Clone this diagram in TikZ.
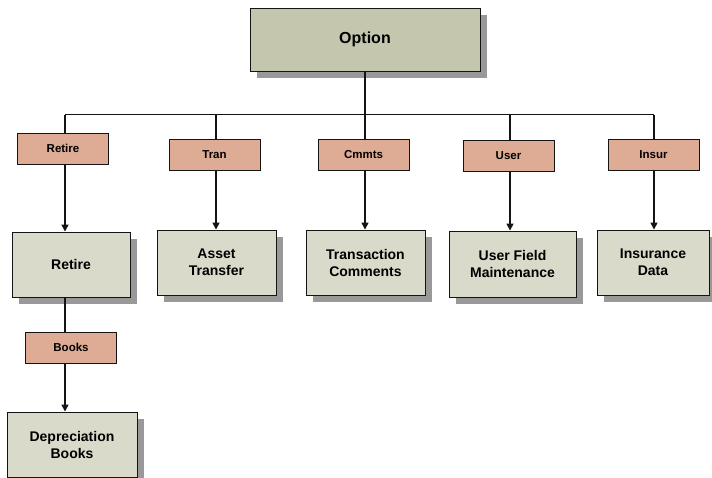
\documentclass[tikz,border=0pt]{standalone}
\usepackage{fontspec}
\setmainfont{Liberation Sans}
\usepackage{xcolor}
\usetikzlibrary{arrows.meta, shadows, calc}
\definecolor{topFill}{RGB}{196, 199, 174}
\definecolor{boxFill}{RGB}{218, 218, 203}
\definecolor{tagFill}{RGB}{222, 172, 148}
\definecolor{lineColor}{RGB}{20, 20, 20}
\definecolor{shadowGray}{RGB}{153, 153, 153}

\begin{document}
\begin{tikzpicture}[x=1pt, y=-1pt]

% Style definitions
\tikzset{
    base/.style={
        rectangle, draw=lineColor, line width=0.9pt, align=center, text=black
    },
    module/.style={
        base, fill=boxFill, minimum width=119pt, minimum height=65pt,
        font=\fontsize{14}{17}\selectfont\bfseries,
        drop shadow={shadow xshift=7pt, shadow yshift=-7pt, fill=shadowGray, opacity=1}
    },
    topbox/.style={
        module, fill=topFill, minimum width=230pt, minimum height=63pt,
        font=\fontsize{16}{19}\selectfont\bfseries
    },
    tag/.style={
        base, fill=tagFill, minimum width=91pt, minimum height=31pt,
        font=\fontsize{11.5}{13}\selectfont\bfseries
    },
    wire/.style={draw=lineColor, line width=1.5pt},
    bus/.style={draw=lineColor, line width=1pt},
    feed/.style={wire, -{Triangle[length=7pt, width=7pt]}}
}

\useasboundingbox (0,0) rectangle (712,478);

% Root
\node (option) [topbox] at (365,39.5) {Option};

% Menu tags
\node (tag_retire) [tag] at (63,148.5) {Retire};
\node (tag_tran)   [tag] at (214.5,155) {Tran};
\node (tag_cmmts)  [tag] at (363.5,155) {Cmmts};
\node (tag_user)   [tag] at (508.5,156) {User};
\node (tag_insur)  [tag] at (653.5,154.5) {Insur};
\node (tag_books)  [tag] at (71,347.5) {Books};

% Screens
\node (retire)  [module, minimum width=118pt] at (71,264.5) {Retire};
\node (transfer) [module] at (216.5,262.5) {Asset\\Transfer};
\node (comments) [module] at (365.5,262.5) {Transaction\\Comments};
\node (userfield) [module, minimum width=127pt, minimum height=66pt] at (512.5,264) {User Field\\Maintenance};
\node (insurance) [module, minimum width=112pt] at (653,262.5) {Insurance\\Data};
\node (depreciation) [module, minimum width=130pt] at (72,444.5) {Depreciation\\Books};

% Bus joints
\coordinate (j_retire) at (65,115);
\coordinate (j_tran) at (216,115);
\coordinate (j_cmmts) at (365,115);
\coordinate (j_user) at (510,115);
\coordinate (j_insur) at (654,115);

% Connections
\draw [wire] (option.south) -- (j_cmmts);
\draw [bus] (j_retire) -- (j_insur);

\draw [wire] (j_retire) -- (j_retire |- tag_retire.north);
\draw [wire] (j_tran) -- (j_tran |- tag_tran.north);
\draw [wire] (j_cmmts) -- (j_cmmts |- tag_cmmts.north);
\draw [wire] (j_user) -- (j_user |- tag_user.north);
\draw [wire] (j_insur) -- (j_insur |- tag_insur.north);

\draw [feed] (j_retire |- tag_retire.south) -- (j_retire |- retire.north);
\draw [feed] (j_tran |- tag_tran.south) -- (j_tran |- transfer.north);
\draw [feed] (j_cmmts |- tag_cmmts.south) -- (j_cmmts |- comments.north);
\draw [feed] (j_user |- tag_user.south) -- (j_user |- userfield.north);
\draw [feed] (j_insur |- tag_insur.south) -- (j_insur |- insurance.north);

\draw [wire] (j_retire |- retire.south) -- (j_retire |- tag_books.north);
\draw [feed] (j_retire |- tag_books.south) -- (j_retire |- depreciation.north);

\end{tikzpicture}
\end{document}
